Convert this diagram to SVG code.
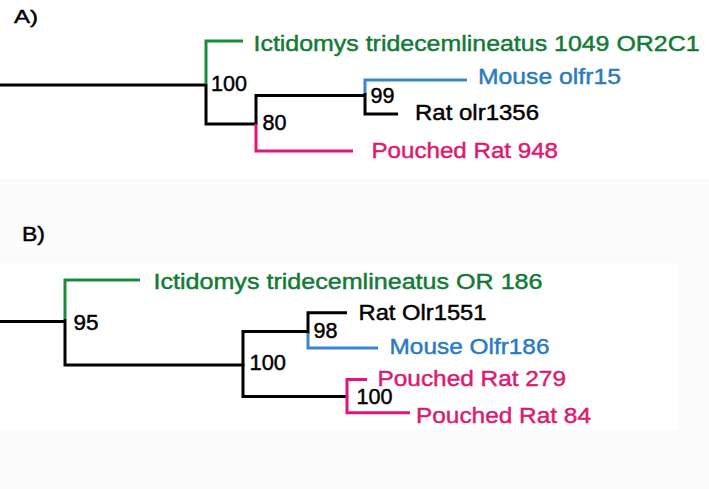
<svg xmlns="http://www.w3.org/2000/svg" width="709" height="489" viewBox="0 0 709 489">
<style>
text{font-family:"Liberation Sans",Arial,sans-serif;stroke-width:0.45px;}
.sp{font-size:22px;}
.bs{font-size:22px;fill:#000;stroke:#000;}
.pl{font-size:21px;fill:#000;stroke:#000;}
.g{fill:#137a36;stroke:#137a36;}
.b{fill:#2a7bc0;stroke:#2a7bc0;}
.p{fill:#dd1a70;stroke:#dd1a70;}
.k{fill:#000;stroke:#000;}
.br{fill:none;stroke-width:3;stroke-linejoin:miter;stroke-linecap:butt;}
.bk{stroke:#000;}
.bg{stroke:#1a8a3c;}
.bb{stroke:#3a88cc;}
.bp{stroke:#e3147a;}
</style>
<rect x="0" y="0" width="709" height="489" fill="#fbfbfb"/>
<rect x="0" y="0" width="709" height="178" fill="#ffffff"/>
<rect x="0" y="263" width="678" height="167" fill="#ffffff"/>

<g id="panel-labels">
<text class="pl" x="14" y="22.5" textLength="24" lengthAdjust="spacingAndGlyphs" style="font-size:18px">A)</text>
<text class="pl" x="22" y="240.5" textLength="23" lengthAdjust="spacingAndGlyphs">B)</text>
</g>

<g id="connectors">
<path class="br bk" d="M0,85 H206"/>
<path class="br bg" d="M206,84 V41 H243"/>
<path class="br bk" d="M206,84 V124 H256"/>
<path class="br bk" d="M256,125 V95.5 H365"/>
<path class="br bp" d="M256,124 V151 H353"/>
<path class="br bb" d="M365,95 V80 H467"/>
<path class="br bk" d="M365,93 V114 H398"/>

<path class="br bk" d="M0,321.5 H65"/>
<path class="br bg" d="M65,319 V280 H140"/>
<path class="br bk" d="M65,319 V365 H243"/>
<path class="br bk" d="M243,366 V331.5 H308"/>
<path class="br bk" d="M243,364 V396.5 H347"/>
<path class="br bk" d="M308,334 V312.7 H347"/>
<path class="br bb" d="M308,333 V348 H378"/>
<path class="br bp" d="M347,397 V379.5 H367"/>
<path class="br bp" d="M347,396 V412.7 H410"/>
</g>

<g id="A-node-100"><text class="bs" x="211" y="91" textLength="36" lengthAdjust="spacingAndGlyphs">100</text></g>
<g id="A-node-80"><text class="bs" x="262.5" y="129.5" textLength="24" lengthAdjust="spacingAndGlyphs">80</text></g>
<g id="A-node-99"><text class="bs" x="370.5" y="103" textLength="24" lengthAdjust="spacingAndGlyphs">99</text></g>
<g id="A-ictidomys"><text class="sp g" x="253.5" y="51" textLength="446" lengthAdjust="spacingAndGlyphs">Ictidomys tridecemlineatus 1049 OR2C1</text></g>
<g id="A-mouse"><text class="sp b" x="478" y="83.5" textLength="143" lengthAdjust="spacingAndGlyphs">Mouse olfr15</text></g>
<g id="A-rat"><text class="sp k" x="415" y="120" textLength="124" lengthAdjust="spacingAndGlyphs">Rat olr1356</text></g>
<g id="A-pouched"><text class="sp p" x="371.5" y="158" textLength="186.5" lengthAdjust="spacingAndGlyphs">Pouched Rat 948</text></g>

<g id="B-node-95"><text class="bs" x="73.5" y="330" textLength="25" lengthAdjust="spacingAndGlyphs">95</text></g>
<g id="B-node-100a"><text class="bs" x="249.5" y="370" textLength="36.5" lengthAdjust="spacingAndGlyphs">100</text></g>
<g id="B-node-98"><text class="bs" x="313.5" y="337.5" textLength="24" lengthAdjust="spacingAndGlyphs">98</text></g>
<g id="B-node-100b"><text class="bs" x="356.5" y="403.5" textLength="36" lengthAdjust="spacingAndGlyphs">100</text></g>
<g id="B-ictidomys"><text class="sp g" x="153.5" y="288.5" textLength="389" lengthAdjust="spacingAndGlyphs">Ictidomys tridecemlineatus OR 186</text></g>
<g id="B-rat"><text class="sp k" x="358.5" y="320" textLength="128" lengthAdjust="spacingAndGlyphs">Rat Olr1551</text></g>
<g id="B-mouse"><text class="sp b" x="389.5" y="353.5" textLength="160" lengthAdjust="spacingAndGlyphs">Mouse Olfr186</text></g>
<g id="B-pouched279"><text class="sp p" x="377.5" y="386" textLength="188.5" lengthAdjust="spacingAndGlyphs">Pouched Rat 279</text></g>
<g id="B-pouched84"><text class="sp p" x="416" y="422.5" textLength="175" lengthAdjust="spacingAndGlyphs">Pouched Rat 84</text></g>
</svg>
